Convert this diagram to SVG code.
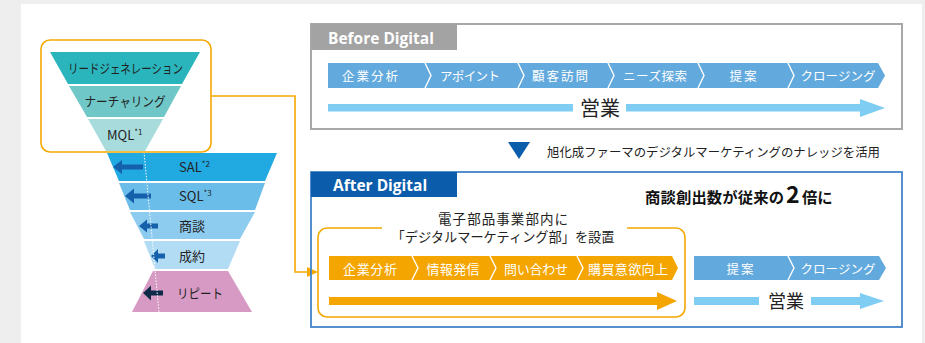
<svg xmlns="http://www.w3.org/2000/svg" width="925" height="343" viewBox="0 0 925 343">
<style>
.jp{font-family:"Noto Sans CJK JP","Noto Sans",sans-serif;fill:#222}
.ttl{font-family:"Open Sans","DejaVu Sans",sans-serif;font-weight:bold;font-size:15.5px;fill:#fff}
.sep{fill:none;stroke:#fff;stroke-width:1.4}
.org{fill:none;stroke:#f5a800;stroke-width:1.6}
.lb{fill:#7fcdf2}
.or{fill:#f5a500}
.bl{fill:#62a9dd}
.ar{fill:#1560ab}
</style>
<rect x="0" y="0" width="925" height="343" fill="#eeeeee"/>
<rect x="21" y="4" width="901" height="339" fill="#ffffff"/>

<!-- Funnel -->
<g id="funnel-top">
  <polygon points="50,52 200,52 182,84 68,84" fill="#2ab5bc"/>
  <polygon points="69,86 181,86 164,117 87,117" fill="#6fc7c7"/>
  <polygon points="88,119 163,119 145,151 106,151" fill="#a8dcdc"/>
  <text class="jp" x="125.5" y="72.5" font-size="13" text-anchor="middle" textLength="115" lengthAdjust="spacingAndGlyphs">リードジェネレーション</text>
  <text class="jp" x="125" y="105.5" font-size="13" text-anchor="middle" textLength="81" lengthAdjust="spacingAndGlyphs">ナーチャリング</text>
  <text class="jp" x="107" y="140" font-size="13">MQL<tspan font-size="8" dy="-5">*1</tspan></text>
</g>
<g id="funnel-sal">
  <polygon points="107,153 277,153 265,181 119,181" fill="#21a9e2"/>
  <path class="ar" d="M113,167 L122,160 L122,164.5 L143,164.5 L143,169.5 L122,169.5 L122,174 Z"/>
  <text class="jp" x="179" y="171.5" font-size="13">SAL<tspan font-size="8" dy="-5">*2</tspan></text>
</g>
<g id="funnel-sql">
  <polygon points="119,183 265,183 255,210 130,210" fill="#6abce9"/>
  <path class="ar" d="M125,196 L134,188.5 L134,193.5 L151,193.5 L151,198.5 L134,198.5 L134,203.5 Z"/>
  <text class="jp" x="179" y="200.5" font-size="13">SQL<tspan font-size="8" dy="-5">*3</tspan></text>
</g>
<g id="funnel-shodan">
  <polygon points="130,212 255,212 240,239 144,239" fill="#8dcbef"/>
  <path class="ar" d="M139,226 L147,219.5 L147,223.5 L158,223.5 L158,228.5 L147,228.5 L147,232.5 Z"/>
  <text class="jp" x="179" y="230.5" font-size="13">商談</text>
</g>
<g id="funnel-seiyaku">
  <polygon points="144,241 240,241 228,269 155,269" fill="#b2dcf4"/>
  <path class="ar" d="M151,256 L158,249 L158,253.5 L165,253.5 L165,258.5 L158,258.5 L158,263 Z"/>
  <text class="jp" x="179" y="260.5" font-size="13">成約</text>
</g>
<g id="funnel-repeat">
  <polygon points="153,271 228,271 252,312 132,312" fill="#d69ac4"/>
  <path d="M143,293 L151,285.5 L151,290.5 L163,290.5 L163,295.5 L151,295.5 L151,300.5 Z" fill="#0d2b48"/>
  <text class="jp" x="177" y="298" font-size="13" textLength="46" lengthAdjust="spacingAndGlyphs">リピート</text>
</g>
<line x1="144" y1="152" x2="159" y2="312" stroke="#ffffff" stroke-width="1" stroke-dasharray="1.5,1.5"/>
<g id="funnel-box">
  <rect class="org" x="41" y="40" width="170" height="112" rx="9"/>
</g>

<!-- Connectors -->
<g id="connectors">
  <path class="org" d="M211,96 H295 V272 H309"/>
  <polygon points="307,267 318,272 307,277" fill="#f5a800"/>
  <polygon points="508,142 530,142 519,159" fill="#0b5cab"/>
</g>

<!-- Before Digital -->
<g id="before">
  <rect x="311" y="24" width="591" height="105" fill="none" stroke="#a8a8a8" stroke-width="2"/>
  <rect x="311" y="24" width="146" height="26" fill="#a3a3a3"/>
  <text class="ttl" x="328" y="44">Before Digital</text>
  <path class="bl" d="M328,63 H878 L885,75.5 L878,88 H328 Z"/>
  <polyline class="sep" points="425,63 431,75.5 425,88"/>
  <polyline class="sep" points="518,63 524,75.5 518,88"/>
  <polyline class="sep" points="608,63 614,75.5 608,88"/>
  <polyline class="sep" points="698,63 704,75.5 698,88"/>
  <polyline class="sep" points="788,63 794,75.5 788,88"/>
  <g class="jp" font-size="12.5" text-anchor="middle" style="fill:#fff">
    <text x="370" y="81" textLength="56" lengthAdjust="spacing">企業分析</text>
    <text x="470" y="81" textLength="60" lengthAdjust="spacing">アポイント</text>
    <text x="560" y="81" textLength="56" lengthAdjust="spacing">顧客訪問</text>
    <text x="655" y="81" textLength="64" lengthAdjust="spacing">ニーズ探索</text>
    <text x="743" y="81" textLength="27" lengthAdjust="spacing">提案</text>
    <text x="838" y="81" textLength="75" lengthAdjust="spacing">クロージング</text>
  </g>
  <rect class="lb" x="328" y="104" width="245" height="7.5"/>
  <text class="jp" x="600" y="116" font-size="20" text-anchor="middle">営業</text>
  <rect class="lb" x="626" y="104" width="236" height="7.5"/>
  <polygon class="lb" points="860,99 885,108 860,117"/>
</g>

<text class="jp" x="547" y="157" font-size="12.5" textLength="333" lengthAdjust="spacingAndGlyphs">旭化成ファーマのデジタルマーケティングのナレッジを活用</text>

<!-- After Digital -->
<g id="after">
  <rect x="311" y="172" width="591" height="155" fill="none" stroke="#4383c8" stroke-width="1.8"/>
  <rect x="311" y="172" width="146" height="25" fill="#0b5cab"/>
  <text class="ttl" x="333" y="191">After Digital</text>
  <text class="jp" x="645" y="203" font-size="15.3" font-weight="bold" style="fill:#111"><tspan textLength="139" lengthAdjust="spacing">商談創出数が従来の</tspan><tspan x="786" font-size="23">2</tspan><tspan x="802">倍に</tspan></text>
</g>
<g id="marketing-dept">
  <path class="org" d="M382,228 H327 A9,9 0 0 0 318,237 V308 A9,9 0 0 0 327,317 H676 A9,9 0 0 0 685,308 V237 A9,9 0 0 0 676,228 H627"/>
  <text class="jp" x="503" y="223.5" font-size="13.5" text-anchor="middle" textLength="130" lengthAdjust="spacing">電子部品事業部内に</text>
  <text class="jp" x="503" y="242" font-size="13.5" text-anchor="middle" textLength="223" lengthAdjust="spacingAndGlyphs">「デジタルマーケティング部」を設置</text>
  <path class="or" d="M329,256 H672 L678,268 L672,280 H329 Z"/>
  <polyline class="sep" points="412,256 418,268 412,280"/>
  <polyline class="sep" points="490,256 496,268 490,280"/>
  <polyline class="sep" points="577,256 583,268 577,280"/>
  <g class="jp" font-size="13" text-anchor="middle" style="fill:#fff">
    <text x="370" y="274" textLength="54" lengthAdjust="spacing">企業分析</text>
    <text x="453" y="274" textLength="53" lengthAdjust="spacing">情報発信</text>
    <text x="536" y="274" textLength="64" lengthAdjust="spacing">問い合わせ</text>
    <text x="628" y="274" textLength="80" lengthAdjust="spacing">購買意欲向上</text>
  </g>
  <rect class="or" x="329" y="297" width="330" height="8"/>
  <polygon class="or" points="657,292 677,301 657,310"/>
</g>
<g id="after-sales">
  <path class="bl" d="M694,256 H879 L886,268 L879,280 H694 Z"/>
  <polyline class="sep" points="788,256 794,268 788,280"/>
  <g class="jp" font-size="12.5" text-anchor="middle" style="fill:#fff">
    <text x="740" y="274" textLength="27" lengthAdjust="spacing">提案</text>
    <text x="838" y="274" textLength="75" lengthAdjust="spacing">クロージング</text>
  </g>
  <rect class="lb" x="694" y="297" width="65" height="8"/>
  <text class="jp" x="786" y="308" font-size="18" text-anchor="middle">営業</text>
  <rect class="lb" x="811" y="297" width="51" height="8"/>
  <polygon class="lb" points="860,293 884,301 860,309"/>
</g>
</svg>
